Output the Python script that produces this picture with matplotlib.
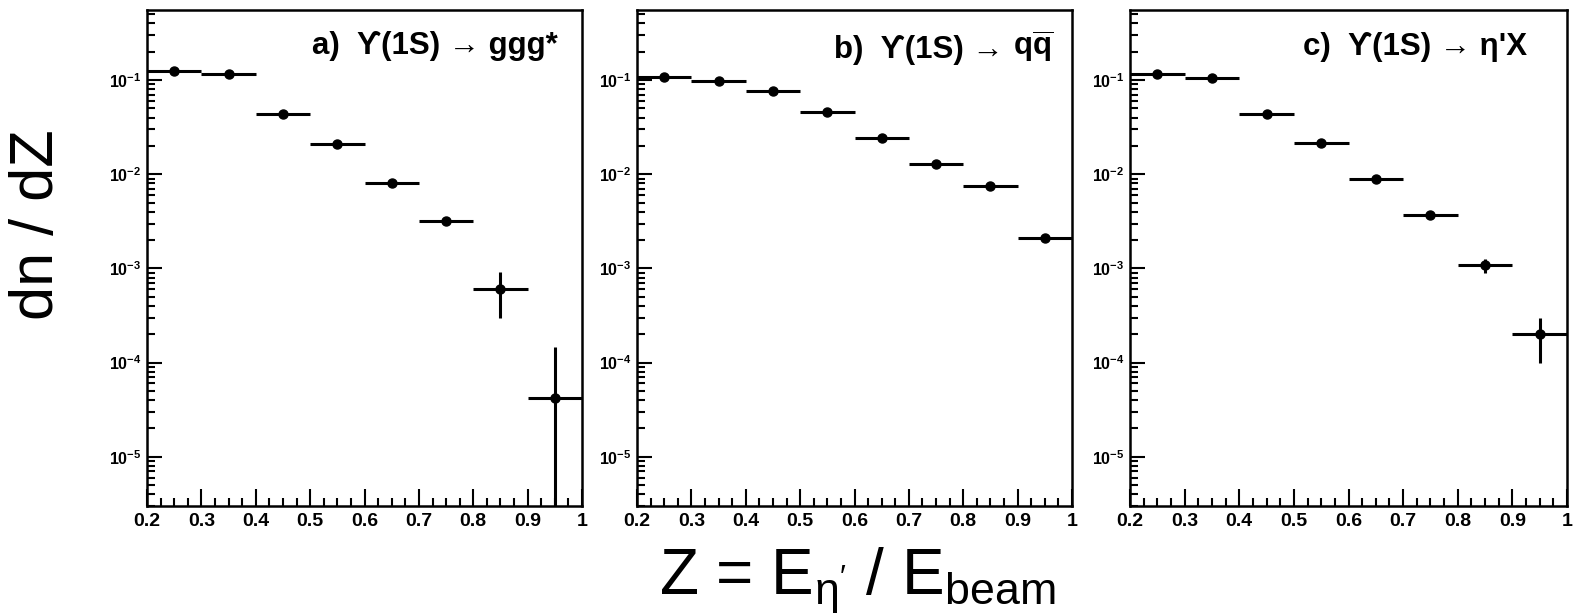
import matplotlib
matplotlib.use("Agg")
import matplotlib.pyplot as plt
from matplotlib.ticker import MultipleLocator, LogLocator, FuncFormatter, NullFormatter
import numpy as np

# bins in Z = E_eta' / E_beam
bin_edges = [0.2, 0.3, 0.4, 0.5, 0.6, 0.7, 0.8, 0.9, 1.0]
z_centers = [0.25, 0.35, 0.45, 0.55, 0.65, 0.75, 0.85, 0.95]

# a) Upsilon(1S) -> ggg*
ggg_vals = [0.125, 0.116, 0.0441, 0.0212, 0.00809, 0.00316, 5.98e-4, 4.17e-5]
ggg_err_lo = [0.008, 0.005, 0.002, 0.001, 0.0004, 0.0002, 2.98e-4, 4.16e-5]
ggg_err_hi = [0.008, 0.005, 0.002, 0.001, 0.0004, 0.0002, 3.1e-4, 1.04e-4]

# b) Upsilon(1S) -> q qbar
qq_vals = [0.108, 0.0976, 0.0763, 0.046, 0.0242, 0.0128, 0.0075, 0.00209]
qq_err_lo = [0.003, 0.003, 0.002, 0.001, 0.0006, 0.0003, 0.0002, 0.00006]
qq_err_hi = [0.003, 0.003, 0.002, 0.001, 0.0006, 0.0003, 0.0002, 0.00006]

# c) Upsilon(1S) -> eta' X
etap_vals = [0.116, 0.105, 0.0435, 0.0217, 0.00885, 0.00367, 0.00109, 1.99e-4]
etap_err_lo = [0.007, 0.004, 0.002, 0.001, 0.0004, 0.00015, 1.9e-4, 0.99e-4]
etap_err_hi = [0.007, 0.004, 0.002, 0.001, 0.0004, 0.00015, 1.7e-4, 1.01e-4]

# title text, plus an optional piece drawn in mathtext right after it
titles = ["a)  ϒ(1S) → ggg*", "b)  ϒ(1S) → ", "c)  ϒ(1S) → η'X"]
title_tails = [None, r"$\mathbf{q\overline{q}}$", None]

plt.rcParams["mathtext.fontset"] = "custom"
plt.rcParams["mathtext.rm"] = "Liberation Sans"
plt.rcParams["mathtext.bf"] = "Liberation Sans:bold"
plt.rcParams["mathtext.it"] = "Liberation Sans:italic"
plt.rcParams["font.family"] = ["Liberation Sans", "DejaVu Serif", "DejaVu Sans"]

fig = plt.figure(figsize=(15.73, 6.16), dpi=100)

panels = [
    ([0.0935, 0.1786, 0.2765, 0.8052], ggg_vals, ggg_err_lo, ggg_err_hi, (0.945, 0.928)),
    ([0.405, 0.1786, 0.2765, 0.8052], qq_vals, qq_err_lo, qq_err_hi, (0.956, 0.93)),
    ([0.7184, 0.1786, 0.2778, 0.8052], etap_vals, etap_err_lo, etap_err_hi, (0.908, 0.926)),
]

xerr = np.diff(bin_edges) / 2


def log_label(v, pos):
    e = int(round(np.log10(v)))
    return r"$\mathbf{10^{%d}}$" % e


for i, (rect, vals, elo, ehi, tpos) in enumerate(panels):
    ax = fig.add_axes(rect)
    ax.set_yscale("log")
    ax.errorbar(z_centers, vals, xerr=xerr, yerr=[elo, ehi], fmt="o",
                color="black", ms=6.5, elinewidth=2.2, capsize=0)
    ax.set_xlim(0.2, 1.0)
    ax.set_ylim(3.0e-6, 0.556)

    for s in ax.spines.values():
        s.set_linewidth(1.8)

    ax.xaxis.set_major_locator(MultipleLocator(0.1))
    ax.xaxis.set_minor_locator(MultipleLocator(0.025))
    ax.xaxis.set_major_formatter(FuncFormatter(lambda v, p: "1" if abs(v - 1) < 1e-6 else f"{v:.1f}"))
    ax.yaxis.set_major_locator(LogLocator(base=10, numticks=10))
    ax.yaxis.set_minor_locator(LogLocator(base=10, subs=np.arange(2, 10), numticks=10))
    ax.yaxis.set_major_formatter(FuncFormatter(log_label))
    ax.yaxis.set_minor_formatter(NullFormatter())

    ax.tick_params(which="both", direction="in", top=False, right=False, width=1.5)
    ax.tick_params(axis="y", which="major", length=11, labelsize=11.5, pad=4)
    ax.tick_params(axis="y", which="minor", length=6)
    ax.tick_params(axis="x", which="major", length=12, labelsize=14, pad=5)
    ax.tick_params(axis="x", which="minor", length=6)
    for lab in ax.get_xticklabels():
        lab.set_fontweight("bold")

    if title_tails[i] is None:
        ax.text(tpos[0], tpos[1], titles[i], transform=ax.transAxes, ha="right",
                va="center", fontsize=22.5, fontweight="bold")
    else:
        # draw the tail at the right edge, then the start of the title just left of it
        tail = ax.text(tpos[0], tpos[1] - 0.022, title_tails[i], transform=ax.transAxes,
                       ha="right", va="baseline", fontsize=22.5)
        ax.annotate(titles[i], xy=(0, 0), xycoords=tail, xytext=(0, 0),
                    textcoords="offset points", ha="right", va="bottom",
                    fontsize=22.5, fontweight="bold")

fig.text(0.024, 0.635, "dn / dZ", rotation=90, ha="center", va="center", fontsize=44)
fig.text(0.545, 0.034, r"Z = E$_{\mathrm{\eta}'}$ / E$_{\mathrm{beam}}$",
         ha="center", va="baseline", fontsize=46)

fig.savefig("out.png", dpi=100, facecolor="white")
